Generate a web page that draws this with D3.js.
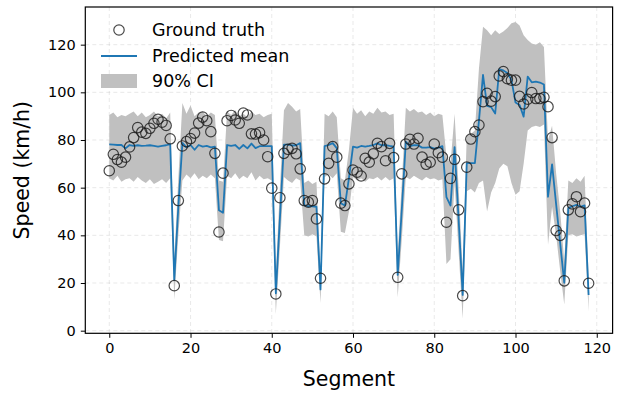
<!DOCTYPE html>
<html>
<head>
<meta charset="utf-8">
<script src="https://cdn.jsdelivr.net/npm/d3@7"></script>
<style>
  body { margin: 0; background: #fff; }
  svg { display: block; }
  text { font-family: "DejaVu Sans", sans-serif; fill: #000; }
</style>
</head>
<body>
<svg id="chart" width="618" height="395"></svg>
<script>
// Observed speed per road segment (km/h)
const groundTruth = [
  67.1, 74.0, 71.8, 70.7, 72.8, 77.1, 81.0, 85.2, 83.3, 82.8,
  84.9, 87.0, 88.7, 87.5, 86.1, 80.5, 18.9, 54.6, 77.5, 79.3,
  80.6, 82.9, 87.1, 89.6, 88.1, 83.5, 74.4, 41.4, 66.1, 88.1,
  90.3, 88.4, 87.0, 91.3, 90.5, 82.6, 82.5, 83.1, 80.0, 73.0,
  59.8, 15.4, 55.8, 74.4, 76.1, 76.5, 74.2, 67.9, 54.6, 53.9,
  54.6, 46.9, 22.0, 63.7, 70.2, 77.2, 72.8, 53.5, 52.5, 61.6,
  67.4, 66.5, 64.9, 72.3, 70.7, 74.2, 78.6, 77.2, 71.3, 78.6,
  72.6, 22.4, 65.8, 78.3, 80.3, 78.3, 80.7, 72.8, 69.8, 70.7,
  78.3, 74.7, 72.8, 45.5, 63.9, 71.9, 50.7, 14.7, 68.6, 80.4,
  83.5, 86.3, 96.1, 99.6, 96.3, 98.2, 106.9, 108.7, 105.7, 105.1,
  105.1, 98.3, 95.1, 97.1, 99.9, 97.4, 97.4, 97.9, 94.0, 81.0,
  42.0, 40.0, 20.9, 50.7, 53.2, 56.2, 49.9, 53.5, 19.9
];

// Posterior predictive mean
const predictedMean = [
  78.2, 78.1, 77.9, 77.9, 76.5, 77.9, 77.5, 77.8, 77.5, 77.6,
  77.8, 77.5, 77.2, 77.5, 77.8, 78.3, 21.3, 52.0, 78.8, 76.9,
  77.9, 75.9, 77.9, 77.2, 77.5, 76.9, 77.2, 50.5, 49.5, 77.9,
  77.5, 77.9, 76.3, 77.9, 76.5, 78.5, 76.6, 77.4, 77.4, 77.4,
  77.4, 15.7, 47.0, 78.1, 78.1, 77.7, 77.8, 78.7, 52.6, 52.2,
  52.2, 52.0, 17.3, 77.4, 77.9, 78.7, 76.6, 53.5, 52.5, 64.0,
  77.2, 76.8, 77.5, 77.2, 77.5, 77.9, 78.6, 77.8, 77.9, 77.5,
  77.2, 23.4, 50.5, 79.3, 77.4, 77.8, 77.8, 76.8, 76.8, 77.0,
  76.4, 76.8, 77.4, 56.0, 52.5, 77.0, 46.6, 15.0, 70.3, 70.3,
  70.3, 88.0, 107.3, 94.3, 93.8, 91.1, 109.7, 109.2, 108.1, 105.2,
  95.7, 94.7, 89.8, 106.6, 104.2, 104.5, 104.1, 103.3, 56.2, 69.8,
  53.0, 36.6, 20.1, 51.4, 52.2, 52.8, 52.0, 52.6, 15.0
];

// 90% credible interval bounds
const ciLower = [
  64.0, 63.0, 65.0, 62.5, 63.5, 64.0, 62.5, 64.5, 63.0, 62.0,
  63.5, 61.5, 62.5, 63.5, 62.0, 64.0, 13.0, 40.0, 63.0, 65.5,
  64.0, 66.0, 63.5, 65.0, 64.0, 65.5, 64.0, 38.0, 37.5, 65.0,
  64.0, 66.0, 63.5, 65.0, 64.0, 66.5, 63.0, 65.0, 63.5, 64.0,
  63.0, 7.0, 35.0, 64.5, 63.0, 62.0, 64.0, 63.0, 40.0, 39.5,
  40.5, 39.5, 11.5, 64.5, 65.5, 64.0, 66.0, 41.5, 41.0, 50.0,
  64.5, 63.0, 64.0, 62.5, 64.0, 63.5, 64.5, 63.0, 64.5, 63.0,
  64.0, 14.0, 38.0, 64.5, 63.5, 65.0, 64.0, 63.0, 64.5, 63.5,
  64.0, 63.0, 63.5, 28.0, 30.0, 62.0, 33.0, 5.0, 58.5, 59.5,
  58.0, 62.0, 63.0, 50.0, 58.0, 62.0, 68.0, 70.0, 69.0, 62.0,
  57.0, 58.5, 70.0, 84.0, 85.5, 86.0, 85.5, 86.5, 36.0, 52.0,
  40.0, 25.0, 11.0, 40.0, 40.5, 39.5, 40.0, 40.5, 8.0
];
const ciUpper = [
  90.5, 91.5, 89.5, 90.5, 90.0, 91.0, 92.0, 90.0, 91.5, 89.5,
  90.5, 92.0, 90.0, 91.0, 89.0, 91.5, 30.0, 64.0, 95.5, 91.0,
  94.5, 90.0, 91.5, 92.0, 90.0, 91.5, 90.5, 63.0, 62.5, 92.0,
  90.5, 92.5, 90.0, 91.0, 89.5, 92.0, 90.5, 91.0, 89.5, 90.5,
  91.0, 24.0, 60.0, 92.5, 95.5, 94.0, 92.0, 93.0, 62.0, 63.0,
  61.5, 62.5, 24.0, 91.0, 90.0, 92.0, 89.5, 64.0, 63.0, 76.0,
  93.5, 91.0, 92.5, 90.0, 92.0, 91.0, 93.5, 91.5, 92.0, 90.5,
  91.0, 32.0, 62.0, 93.5, 92.0, 93.0, 91.5, 92.0, 90.5, 91.5,
  90.0, 91.0, 90.5, 73.0, 70.0, 91.0, 60.0, 25.0, 82.0, 82.5,
  84.0, 110.0, 127.5, 126.0, 124.0, 126.0, 124.5, 125.5, 127.0, 129.0,
  129.5, 128.0, 124.0, 122.0, 120.5, 120.0, 121.0, 119.0, 80.0, 86.0,
  66.0, 50.0, 29.0, 63.0, 62.0, 64.0, 62.5, 65.0, 23.0
];

const xTicks = [0, 20, 40, 60, 80, 100, 120];
const yTicks = [0, 20, 40, 60, 80, 100, 120];
const legendLabels = ["Ground truth", "Predicted mean", "90% CI"];

const segments = groundTruth.map((_, i) => i);

const plot = { left: 85.3, right: 612.6, top: 7, bottom: 333.3 };
const svg = d3.select("#chart");

const x = d3.scaleLinear().domain([-5.9, 123.9]).range([plot.left, plot.right]);
const y = d3.scaleLinear().domain([-1.1, 135.8]).range([plot.bottom, plot.top]);

const clipId = "plot-clip";
svg.append("defs").append("clipPath").attr("id", clipId)
  .append("rect")
  .attr("x", plot.left).attr("y", plot.top)
  .attr("width", plot.right - plot.left).attr("height", plot.bottom - plot.top);

// Dashed grid
const grid = svg.append("g").attr("clip-path", `url(#${clipId})`);
grid.selectAll("line.gx").data(xTicks).join("line")
  .attr("x1", d => x(d)).attr("x2", d => x(d))
  .attr("y1", plot.top).attr("y2", plot.bottom)
  .attr("stroke", "#b0b0b0").attr("stroke-opacity", 0.35)
  .attr("stroke-width", 0.8).attr("stroke-dasharray", "4,3");
grid.selectAll("line.gy").data(yTicks).join("line")
  .attr("x1", plot.left).attr("x2", plot.right)
  .attr("y1", d => y(d)).attr("y2", d => y(d))
  .attr("stroke", "#b0b0b0").attr("stroke-opacity", 0.35)
  .attr("stroke-width", 0.8).attr("stroke-dasharray", "4,3");

const layer = svg.append("g").attr("clip-path", `url(#${clipId})`);

// Credible band
const band = d3.area()
  .x(i => x(segments[i]))
  .y0(i => y(ciLower[i]))
  .y1(i => y(ciUpper[i]));
layer.append("path")
  .attr("d", band(segments))
  .attr("fill", "#c0c0c0");

// Mean line
const meanLine = d3.line()
  .x(i => x(segments[i]))
  .y(i => y(predictedMean[i]));
layer.append("path")
  .attr("d", meanLine(segments))
  .attr("fill", "none")
  .attr("stroke", "#1f77b4")
  .attr("stroke-width", 1.8)
  .attr("stroke-linejoin", "round");

// Observations
layer.selectAll("circle.obs").data(segments).join("circle")
  .attr("class", "obs")
  .attr("cx", i => x(segments[i]))
  .attr("cy", i => y(groundTruth[i]))
  .attr("r", 5.2)
  .attr("fill", "none")
  .attr("stroke", "#1a1a1a")
  .attr("stroke-opacity", 0.8)
  .attr("stroke-width", 1.2);

// Axes
const xAxis = svg.append("g")
  .attr("transform", `translate(0,${plot.bottom})`)
  .call(d3.axisBottom(x).tickValues(xTicks).tickSize(4.5).tickPadding(5).tickFormat(d3.format("d")));
const yAxis = svg.append("g")
  .attr("transform", `translate(${plot.left},0)`)
  .call(d3.axisLeft(y).tickValues(yTicks).tickSize(4.5).tickPadding(5).tickFormat(d3.format("d")));
[xAxis, yAxis].forEach(g => {
  g.select(".domain").remove();
  g.selectAll(".tick line").attr("stroke", "#000").attr("stroke-width", 1);
  g.selectAll(".tick text").attr("font-size", 14.5).attr("font-family", "DejaVu Sans").attr("fill", "#000");
});

// Frame
svg.append("rect")
  .attr("x", plot.left).attr("y", plot.top)
  .attr("width", plot.right - plot.left).attr("height", plot.bottom - plot.top)
  .attr("fill", "none").attr("stroke", "#000").attr("stroke-width", 1.2);

// Axis titles
svg.append("text")
  .attr("x", (plot.left + plot.right) / 2).attr("y", 386)
  .attr("text-anchor", "middle").attr("font-size", 20.5)
  .text("Segment");
svg.append("text")
  .attr("transform", `translate(29,${(plot.top + plot.bottom) / 2}) rotate(-90)`)
  .attr("text-anchor", "middle").attr("font-size", 20.5)
  .text("Speed (km/h)");

// Legend
const legend = svg.append("g");
const rowY = [30, 56, 81];
legend.append("circle")
  .attr("cx", 119).attr("cy", rowY[0]).attr("r", 5.2)
  .attr("fill", "none").attr("stroke", "#1a1a1a").attr("stroke-opacity", 0.8).attr("stroke-width", 1.2);
legend.append("line")
  .attr("x1", 101).attr("x2", 137).attr("y1", rowY[1]).attr("y2", rowY[1])
  .attr("stroke", "#1f77b4").attr("stroke-width", 1.8);
legend.append("rect")
  .attr("x", 101).attr("y", rowY[2] - 7).attr("width", 36).attr("height", 14)
  .attr("fill", "#c0c0c0");
legend.selectAll("text").data(legendLabels).join("text")
  .attr("x", 152).attr("y", (d, i) => rowY[i])
  .attr("dy", "0.36em").attr("font-size", 17.5)
  .text(d => d);
</script>
</body>
</html>
